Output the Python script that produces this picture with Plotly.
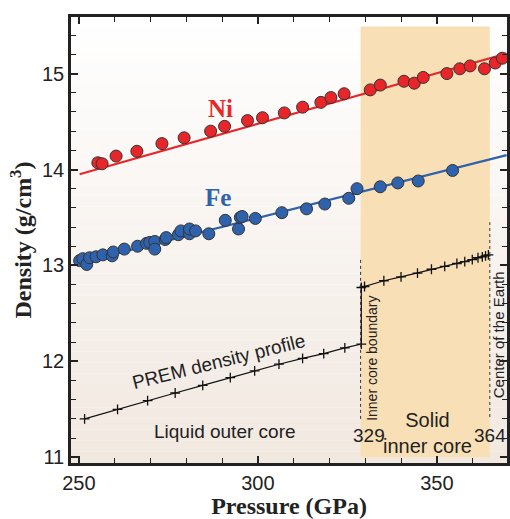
import plotly.graph_objects as go

# ---------------- data ----------------
ni_p = [255.3, 256.5, 260.4, 266.2, 273.2, 279.4, 286.8, 290.7, 297.1, 301.3, 307.4, 312.5,
        317.6, 320.4, 324.1, 331.4, 334.2, 340.8, 343.7, 346.2, 352.8, 356.4, 359.3, 363.3,
        366.3, 368.3]
ni_rho = [14.07, 14.06, 14.14, 14.19, 14.27, 14.33, 14.40, 14.45, 14.51, 14.54, 14.59, 14.65,
          14.70, 14.75, 14.79, 14.83, 14.88, 14.92, 14.90, 14.96, 15.00, 15.05, 15.08, 15.05,
          15.11, 15.16]
ni_fit_p = [250.2, 369.5]
ni_fit_rho = [13.95, 15.21]

fe_p = [250.2, 251.1, 252.2, 253.0, 254.8, 256.7, 259.3, 259.6, 262.7, 266.4, 268.9, 269.8,
        271.2, 271.2, 274.1, 274.4, 277.8, 278.5, 280.9, 280.9, 282.6, 286.3, 290.9, 294.6,
        295.1, 295.6, 299.3, 306.7, 313.6, 318.7, 325.4, 327.7, 334.2, 339.1, 344.8, 354.4]
fe_rho = [13.05, 13.07, 13.01, 13.08, 13.09, 13.11, 13.10, 13.14, 13.17, 13.20, 13.23, 13.24,
          13.25, 13.17, 13.27, 13.29, 13.32, 13.36, 13.33, 13.38, 13.36, 13.33, 13.47, 13.38,
          13.50, 13.51, 13.49, 13.55, 13.59, 13.64, 13.70, 13.80, 13.82, 13.86, 13.88, 13.99]
fe_fit_p = [250.5, 369.5]
fe_fit_rho = [13.03, 14.15]

prem_p = [251.6, 260.8, 269.2, 276.9, 284.6, 292.3, 299.1, 305.9, 312.5, 318.4, 324.3, 328.9,
          328.9, 329.8, 335.2, 340.0, 344.6, 348.5, 352.2, 355.6, 357.8, 359.9, 361.5, 362.7,
          363.6, 364.4]
prem_rho = [11.40, 11.50, 11.59, 11.67, 11.75, 11.83, 11.90, 11.97, 12.03, 12.08, 12.14, 12.18,
            12.77, 12.78, 12.84, 12.88, 12.92, 12.96, 12.99, 13.02, 13.04, 13.06, 13.08, 13.09,
            13.10, 13.11]

icb_p = 329
center_p = 364.8

x_range = [247.8, 369.6]
y_range = [10.94, 15.59]

RED = "#e8262a"
BLUE = "#2f62ad"
ORANGE = "#f9dfb6"

fig = go.Figure()

# background gradient (white top -> light beige bottom)
n = 40
top_c = (255, 255, 255)
bot_c = (241, 232, 224)
for i in range(n):
    f = (i + 0.5) / n
    c = tuple(round(top_c[k] + (bot_c[k] - top_c[k]) * f) for k in range(3))
    fig.add_shape(type="rect", xref="paper", yref="paper", x0=0, x1=1,
                  y0=1 - (i + 1) / n, y1=1 - i / n,
                  fillcolor="rgb(%d,%d,%d)" % c, line_width=0, layer="below")

# inner core shading
fig.add_shape(type="rect", xref="x", yref="y", x0=328.7, x1=center_p, y0=11.0, y1=15.49,
              fillcolor=ORANGE, line_width=0, layer="below")

# dashed boundaries
fig.add_shape(type="line", xref="x", yref="y", x0=328.7, x1=328.7, y0=11.40, y1=13.07,
              line=dict(color="#333333", width=1, dash="3px,3px"))
fig.add_shape(type="line", xref="x", yref="y", x0=center_p, x1=center_p, y0=11.42, y1=13.45,
              line=dict(color="#333333", width=1, dash="3px,3px"))

# fits
fig.add_trace(go.Scatter(x=ni_fit_p, y=ni_fit_rho, mode="lines",
                         line=dict(color=RED, width=2.2), showlegend=False, hoverinfo="skip"))
fig.add_trace(go.Scatter(x=fe_fit_p, y=fe_fit_rho, mode="lines",
                         line=dict(color=BLUE, width=2.2), showlegend=False, hoverinfo="skip"))

# PREM
fig.add_trace(go.Scatter(x=prem_p, y=prem_rho, mode="lines+markers",
                         line=dict(color="#111111", width=1.2),
                         marker=dict(symbol="cross-thin", size=7, line=dict(color="#111111", width=1.3)),
                         showlegend=False))

# data points
fig.add_trace(go.Scatter(x=fe_p, y=fe_rho, mode="markers",
                         marker=dict(color=BLUE, size=12, line=dict(color="#333333", width=1)),
                         showlegend=False))
fig.add_trace(go.Scatter(x=ni_p, y=ni_rho, mode="markers",
                         marker=dict(color=RED, size=12, line=dict(color="#333333", width=1)),
                         showlegend=False))

# annotations
def ann(x, y, text, size=16, color="#222222", family="Liberation Sans", angle=0, **kw):
    fig.add_annotation(x=x, y=y, xref="x", yref="y", text=text, showarrow=False,
                       font=dict(size=size, color=color, family=family), textangle=angle, **kw)

ann(289.6, 14.64, "<b>Ni</b>", size=25, color=RED, family="Liberation Serif")
ann(289.0, 13.71, "<b>Fe</b>", size=25, color=BLUE, family="Liberation Serif")
ann(289.1, 12.0, "PREM density profile", size=19, angle=-14)
ann(290.9, 11.27, "Liquid outer core", size=19)
ann(331.1, 11.23, "329", size=19)
ann(347.4, 11.25, "Solid<br>inner core", size=20)
ann(364.8, 11.23, "364", size=19)
ann(332.0, 12.03, "Inner core boundary", size=14, angle=-90)
ann(367.3, 12.28, "Center of the Earth", size=15, angle=-90)

axis_common = dict(showline=True, linecolor="#222222", linewidth=2.5, mirror="allticks",
                   ticks="inside", tickcolor="#222222", tickwidth=1.5, ticklen=7,
                   showgrid=False, zeroline=False,
                   tickfont=dict(size=20, family="Liberation Sans", color="#222222"))

fig.update_xaxes(range=x_range, tickvals=[250, 300, 350], **axis_common,
                 minor=dict(dtick=10, tick0=250, ticks="inside", ticklen=5, tickwidth=1.2,
                            tickcolor="#222222", showgrid=False),
                 title=dict(text="<b>Pressure (GPa)</b>", standoff=4,
                            font=dict(size=24, family="Liberation Serif", color="#222222")))
fig.update_yaxes(range=y_range, tickvals=[11, 12, 13, 14, 15], **axis_common,
                 minor=dict(dtick=0.2, tick0=11, ticks="inside", ticklen=5, tickwidth=1.2,
                            tickcolor="#222222", showgrid=False),
                 title=dict(text="<b>Density (g/cm<sup>3</sup>)</b>", standoff=4,
                            font=dict(size=24, family="Liberation Serif", color="#222222")))

fig.update_layout(width=510, height=519, margin=dict(l=71, r=0, t=17, b=56),
                  paper_bgcolor="white", plot_bgcolor="white")

fig.write_html("out.html")
